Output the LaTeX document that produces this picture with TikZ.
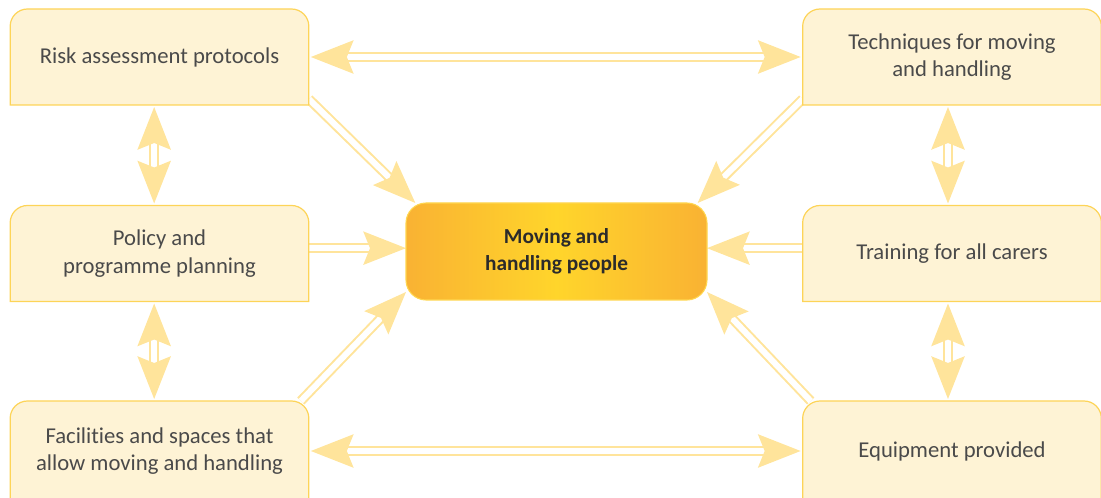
\documentclass[tikz,border=0pt]{standalone}
\usepackage{fontspec}
\setmainfont{Carlito}[Ligatures=NoCommon]
\usetikzlibrary{arrows.meta,calc,positioning}
\definecolor{panelfill}{HTML}{FEF3D5}
\definecolor{paneledge}{HTML}{FDD458}
\definecolor{linkcol}{HTML}{FFE49B}
\definecolor{hubedge}{HTML}{F9B233}
\definecolor{hubmid}{HTML}{FFD52B}
\definecolor{hubline}{HTML}{FFD64F}
\definecolor{textcol}{HTML}{4A4A4A}
\definecolor{hubtext}{HTML}{2B2B2B}
\pgfdeclarelayer{links}
\pgfdeclarelayer{panels}
\pgfsetlayers{links,panels,main}
\tikzset{
  every node/.style = {outer sep=0, inner sep=0},
  panel/.style = {rectangle, minimum width=224pt, minimum height=72pt, align=center,
    text=textcol, font=\fontsize{17}{20.5}\selectfont},
  panelshape/.style = {draw=paneledge, fill=panelfill, line width=0.9pt},
  hub/.style = {rectangle, rounded corners=15pt, minimum width=225.75pt, minimum height=72.75pt,
    draw=hubline, line width=0.8pt, left color=hubedge, right color=hubedge, middle color=hubmid,
    align=center, text=hubtext, font=\bfseries\fontsize{16}{20}\selectfont},
  link/.style = {draw=linkcol, line width=1.5pt, double=white, double distance=4.5pt},
  twoway/.style = {link, <->, shorten <=1.5pt, shorten >=1.5pt},
  oneway/.style = {link, ->}
}
\begin{document}
\begin{tikzpicture}[x=0.75pt, y=0.75pt, >={Stealth[length=32pt, width=25pt, inset=5pt]}]
  \useasboundingbox (0,0) rectangle (1101,497);

  % outer boxes
  \node[panel] (risk) at (159.5,440) {Risk assessment protocols};
  \node[panel] (policy) at (159.5,243.5) {Policy and\\programme planning};
  \node[panel, minimum height=75pt] (facil) at (159.5,46) {Facilities and spaces that\\allow moving and handling};
  \node[panel] (tech) at (952,440) {Techniques for moving\\and handling};
  \node[panel] (training) at (952,243.5) {Training for all carers};
  \node[panel, minimum height=75pt] (equip) at (952,46) {Equipment provided};

  % centre
  \node[hub] (hub) at (556.5,245.5) {Moving and\\handling people};

  % box outlines, round at the top only
  \begin{pgfonlayer}{panels}
    \foreach \p in {risk,policy,facil,tech,training,equip}
      \draw[panelshape] (\p.south west) -- ([yshift=-13pt]\p.north west)
        arc[start angle=180, end angle=90, radius=13pt] -- ([xshift=-13pt]\p.north east)
        arc[start angle=90, end angle=0, radius=13pt] -- (\p.south east) -- cycle;
  \end{pgfonlayer}

  \begin{pgfonlayer}{links}
    % between the boxes
    \draw[twoway] (risk) -- (tech);
    \draw[twoway] (facil) -- (equip);
    \draw[twoway] ([xshift=-4pt]risk.south) -- ([xshift=-4pt]policy.north);
    \draw[twoway] ([xshift=-4pt]policy.south) -- ([xshift=-4pt]facil.north);
    \draw[twoway] ([xshift=-3pt]tech.south) -- ([xshift=-3pt]training.north);
    \draw[twoway] ([xshift=-3pt]training.south) -- ([xshift=-3pt]equip.north);
    % into the centre
    \draw[oneway] ([yshift=4pt]policy.east) -- ([yshift=4pt]policy.east -| hub.west);
    \draw[oneway] ([yshift=4pt]training.west) -- ([yshift=4pt]training.west -| hub.east);
    \draw[oneway] ([yshift=4.5pt]risk.south east) -- ([xshift=7pt]hub.north west);
    \draw[oneway] ([yshift=4.5pt]tech.south west) -- ([xshift=-7pt]hub.north east);
    \draw[oneway] ([xshift=-6pt]facil.north east) -- ([yshift=6pt]hub.south west);
    \draw[oneway] ([xshift=6pt]equip.north west) -- ([yshift=6pt]hub.south east);
  \end{pgfonlayer}
\end{tikzpicture}
\end{document}
